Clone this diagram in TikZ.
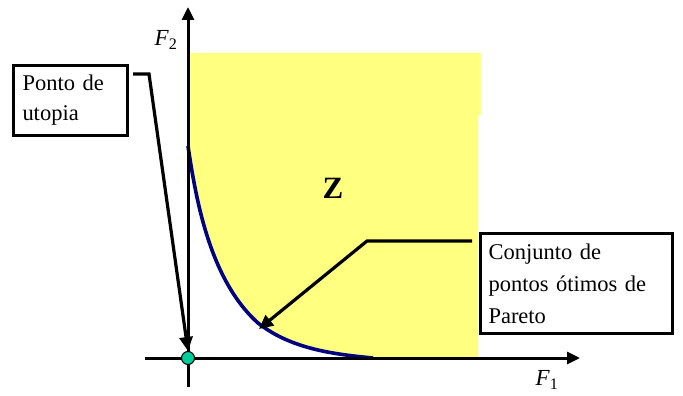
\documentclass[tikz,border=0pt]{standalone}
\usepackage{fontspec}
\setmainfont{Liberation Serif}
\usetikzlibrary{arrows.meta}
\definecolor{zyellow}{RGB}{255,255,128}
\definecolor{curveblue}{RGB}{0,0,128}
\definecolor{dotgreen}{RGB}{0,204,153}
\begin{document}
\begin{tikzpicture}[x=1pt,y=-1pt,
  axis/.style={line width=3pt,-{Triangle[length=13pt,width=12pt]}},
  leader/.style={line width=3.2pt,-{Triangle[length=14pt,width=13pt]}},
  labelbox/.style={draw,line width=3pt,fill=white,anchor=north west,align=left,inner ysep=0pt,
    font=\fontsize{22.5}{30}\selectfont},
  axlabel/.style={font=\fontsize{23}{26}\selectfont\itshape}]
\useasboundingbox (0,0) rectangle (683,396);
% feasible region
\fill[zyellow] (188,53) -- (188,146)
  .. controls (196,200) and (210,280) .. (258,323)
  .. controls (290,348) and (330,354) .. (373,358)
  -- (478,358) -- (478,115) -- (481,115) -- (481,53) -- cycle;
% Pareto front
\draw[curveblue,line width=3.6pt] (188,146)
  .. controls (196,200) and (210,280) .. (258,323)
  .. controls (290,348) and (330,354) .. (373,358);
% axes
\coordinate (xs) at (145,358);
\coordinate (xe) at (580,358);
\coordinate (ys) at (188,387);
\coordinate (ye) at (188,7);
\draw[axis] (xs) -- (xe);
\draw[axis] (ys) -- (ye);
\node[axlabel] (f2) at (166,40) {F\textsubscript{\upshape 2}};
\node[axlabel] (f1) at (547,380) {F\textsubscript{\upshape 1}};
% Z
\node[font=\fontsize{31}{34}\selectfont\bfseries] (z) at (333,188) {Z};
% utopia point
\node[circle,fill=dotgreen,draw=black,line width=1pt,minimum size=13pt,inner sep=0pt] (dot) at (188,358) {};
% boxes
\node[labelbox,text width=96pt,minimum height=70pt,inner xsep=9pt] (utop) at (12,64) {Ponto de\\utopia};
\node[labelbox,text width=176pt,minimum height=100pt,inner xsep=8pt,font=\fontsize{22.5}{32}\selectfont] (par) at (479,232) {Conjunto de\\pontos ótimos de\\Pareto};
% leaders
\coordinate (u1) at (133,74);
\coordinate (u2) at (149,74);
\draw[leader] (u1) -- (u2) -- (dot.north);
\coordinate (p1) at (472,241);
\coordinate (p2) at (367,241);
\coordinate (p3) at (259,329);
\draw[leader] (p1) -- (p2) -- (p3);
\end{tikzpicture}
\end{document}
